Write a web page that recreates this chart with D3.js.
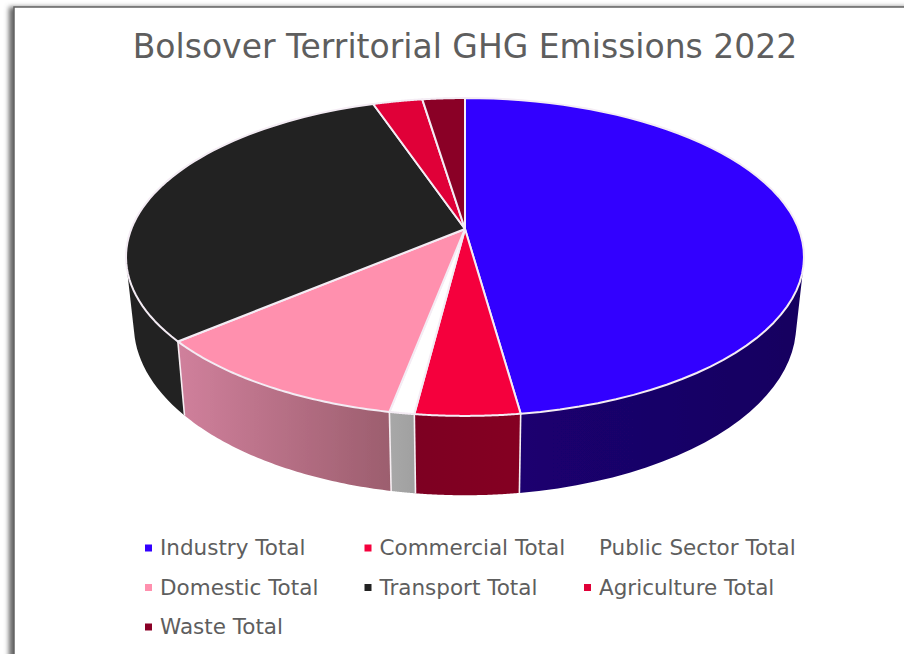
<!DOCTYPE html>
<html>
<head>
<meta charset="utf-8">
<style>
    html, body { margin: 0; padding: 0; background: #fff; }
    svg { display: block; }
    text { font-family: "DejaVu Sans", sans-serif; fill: #5e5e5e; }
</style>
</head>
<body>
<svg width="904" height="654"></svg>
<script src="https://d3js.org/d3.v7.min.js"></script>
<script>

    var categories = ["Industry Total", "Commercial Total", "Public Sector Total", "Domestic Total",
        "Transport Total", "Agriculture Total", "Waste Total"];
    var shares = [47.8, 4.2, 1.0, 10.8, 31.0, 2.8, 2.4];
    var topColors = ["#3300ff", "#f5003d", "#ffffff", "#ff90ae", "#222222", "#e00038", "#8a0026"];
    var sideStart = ["#1b0072", "#7d0024", "#a8a8a8", "#d0809c", "#222222", "#7d0024", "#7d0024"];
    var sideEnd = ["#170060", "#850022", "#a0a0a0", "#9c5e6e", "#222222", "#7d0024", "#7d0024"];
    var legendRows = [0, 0, 0, 1, 1, 1, 2];
    var legendCols = [0, 1, 2, 0, 1, 2, 0];
    var chartTitle = "Bolsover Territorial GHG Emissions 2022";

    var svg = d3.select("svg");
    var defs = svg.append("defs");

    defs.append("filter").attr("id", "blur")
        .attr("x", "-5%").attr("y", "-5%").attr("width", "110%").attr("height", "110%")
        .append("feGaussianBlur").attr("stdDeviation", 2.5);
    defs.append("filter").attr("id", "soft")
        .append("feGaussianBlur").attr("stdDeviation", 0.35);

    // chart frame with its soft shadow
    svg.append("rect")
        .attr("x", 9).attr("y", 7).attr("width", 960).attr("height", 700)
        .attr("fill", "#666").attr("filter", "url(#blur)");
    svg.append("rect")
        .attr("x", 14).attr("y", 7).attr("width", 960).attr("height", 700)
        .attr("fill", "#fff").attr("stroke", "#646464").attr("stroke-width", 1.5);

    svg.append("text")
        .attr("x", 465).attr("y", 58)
        .attr("text-anchor", "middle")
        .attr("font-size", 33)
        .text(chartTitle);

    // perspective view of the pie: far rim shrinks, near rim grows
    var k = 0.176;

    function topRim(a) {
        var w = 1 + k * Math.cos(a);
        return [465 + 333.7 * Math.sin(a) / w, 229 - 154 * Math.cos(a) / w];
    }

    function bottomRim(a) {
        var w = 1 + k * Math.cos(a);
        return [465 + 326 * Math.sin(a) / w, 295 - 165 * Math.cos(a) / w];
    }

    var pie = d3.pie().sort(null).value(function(d) { return d; });
    var arcs = pie(shares);
    var line = d3.line();

    function rim(d, fn) {
        return d3.range(0, 61).map(function(i) {
            return fn(d.startAngle + (d.endAngle - d.startAngle) * i / 60);
        });
    }

    arcs.forEach(function(d) {
        var a = rim(d, topRim), b = rim(d, bottomRim);
        d.topPath = line([[465, 229]].concat(a)) + "Z";
        // the wall is one path of thin quads, all wound the same way, so it fills to the silhouette
        d.sidePath = d3.range(60).map(function(i) {
            var quad = [a[i], a[i + 1], b[i + 1], b[i]];
            if (d3.polygonArea(quad) < 0) quad.reverse();
            return line(quad) + "Z";
        }).join("");
        d.edges = [[a[0], b[0]], [a[60], b[60]]];
        d.x0 = d3.min(a.concat(b), function(p) { return p[0]; });
        d.x1 = d3.max(a.concat(b), function(p) { return p[0]; });
    });

    var grads = defs.selectAll("linearGradient")
        .data(arcs)
        .enter().append("linearGradient")
        .attr("id", function(d, i) { return "side" + i; })
        .attr("gradientUnits", "userSpaceOnUse")
        .attr("x1", function(d) { return d.x0; })
        .attr("x2", function(d) { return d.x1; })
        .attr("y1", 0).attr("y2", 0);
    grads.append("stop").attr("offset", 0).attr("stop-color", function(d, i) { return sideStart[i]; });
    grads.append("stop").attr("offset", 1).attr("stop-color", function(d, i) { return sideEnd[i]; });

    var pieGroup = svg.append("g").attr("filter", "url(#soft)");

    pieGroup.append("g").selectAll("path")
        .data(arcs)
        .enter().append("path")
        .attr("d", function(d) { return d.sidePath; })
        .attr("fill", function(d, i) { return "url(#side" + i + ")"; });

    // white dividers on the front wall
    pieGroup.append("g").selectAll("path")
        .data(arcs.slice(0, 5))
        .enter().append("path")
        .attr("d", function(d) { return line(d.edges[1]); })
        .attr("fill", "none")
        .attr("stroke", "#f6eef2")
        .attr("stroke-width", 1.6);

    pieGroup.append("g").selectAll("path")
        .data(arcs)
        .enter().append("path")
        .attr("d", function(d) { return d.topPath; })
        .attr("fill", function(d, i) { return topColors[i]; })
        .attr("stroke", "#f4ecf4")
        .attr("stroke-width", 2)
        .attr("stroke-linejoin", "round");

    // legend grid
    var xLegend = d3.scaleLinear().domain([0, 2]).range([160, 599]);
    var yLegend = d3.scaleLinear().domain([0, 2]).range([548, 627]);

    var items = svg.append("g").selectAll("g")
        .data(categories)
        .enter().append("g")
        .attr("transform", function(d, i) {
            return "translate(" + xLegend(legendCols[i]) + "," + yLegend(legendRows[i]) + ")";
        });

    items.append("rect")
        .attr("x", -15).attr("y", -3.5).attr("width", 7).attr("height", 7)
        .attr("fill", function(d, i) { return topColors[i]; });

    items.append("text")
        .attr("y", 7)
        .attr("font-size", 21.5)
        .text(function(d) { return d; });

</script>
</body>
</html>
